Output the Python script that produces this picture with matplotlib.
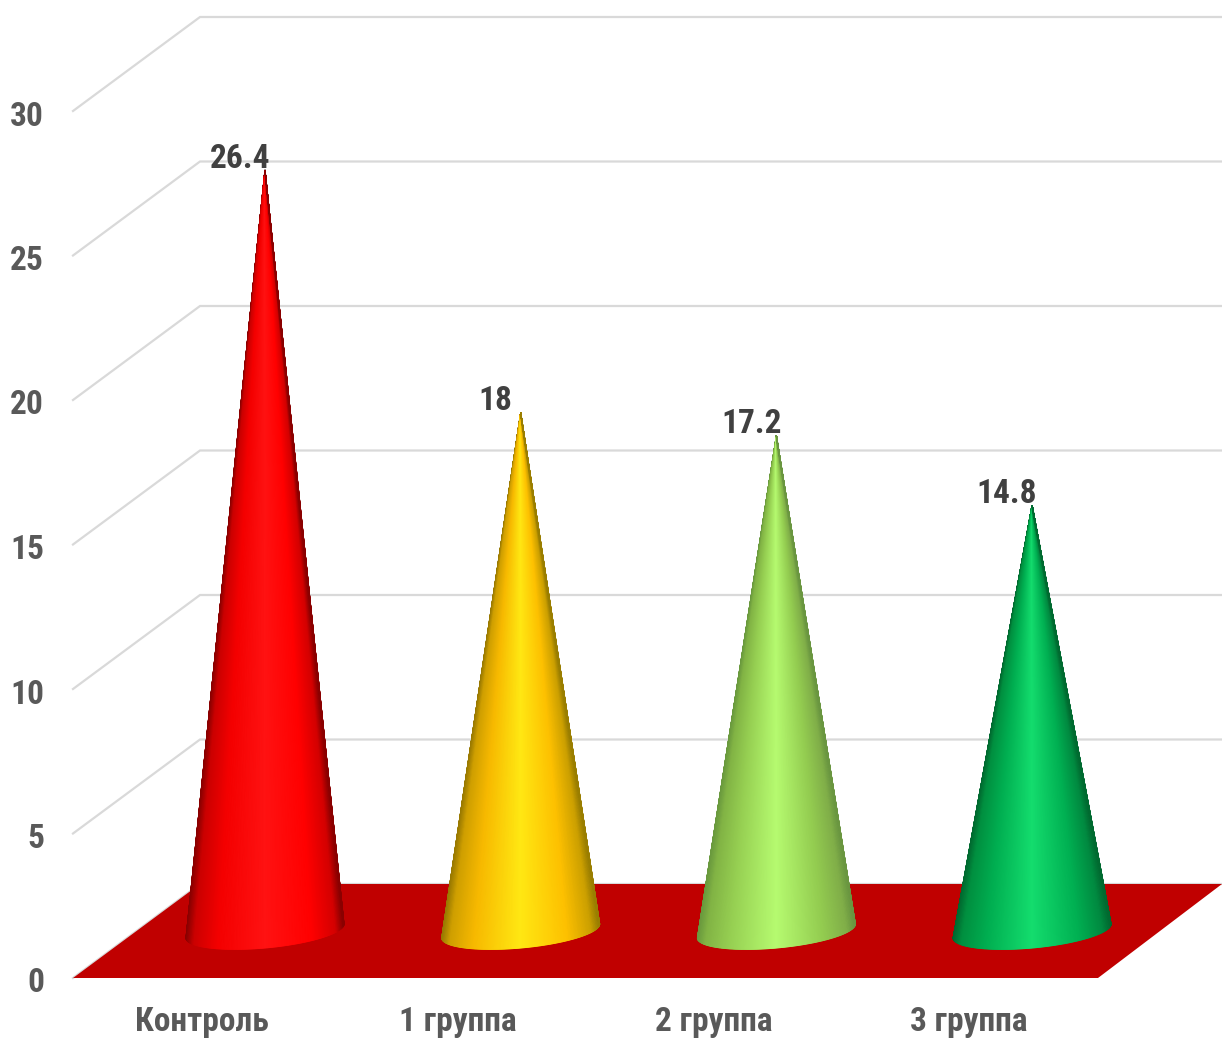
"""3D style cone chart: control and three groups."""

import numpy as np
import matplotlib
matplotlib.use("Agg")
import matplotlib.pyplot as plt
from matplotlib.colors import LinearSegmentedColormap
from matplotlib.patches import Polygon

# Data
CATEGORIES = ["Контроль", "1 группа", "2 группа", "3 группа"]
VALUES = [26.4, 18, 17.2, 14.8]
VALUE_LABELS = ["26.4", "18", "17.2", "14.8"]
Y_TICKS = [0, 5, 10, 15, 20, 25, 30]

# Colour stops across each cone, left edge to right edge
CONE_COLORS = [
    ["#8a0000", "#cc0000", "#f40000", "#ff1212", "#ff0000", "#d40000", "#8a0000"],
    ["#9a7a00", "#d0a000", "#f7b900", "#ffe813", "#fdc000", "#cca000", "#9a7e00"],
    ["#6a9a3e", "#82b445", "#96cf52", "#b6fb70", "#93cc50", "#80ae48", "#6a9640"],
    ["#006a30", "#009040", "#00ad50", "#14dd6e", "#00b052", "#008a40", "#006a30"],
]
COLOR_STOPS = [0, 0.05, 0.2, 0.5, 0.8, 0.95, 1]

# Scale of the picture
FIG_W, FIG_H = 1222, 1039
PX_PER_CAT = 255.7
PX_PER_UNIT = 28.9
FIRST_CONE_PX = 265
BASE_PX = 933
FRONT_ZERO_PX = 978
BACK_ZERO_PX = 884
LEFT_FRONT_PX = 73
LEFT_BACK_PX = 200
RIGHT_FRONT_PX = 1098

GRID_COLOR = "#d9d9d9"
FLOOR_COLOR = "#c00000"
TICK_COLOR = "#595959"
LABEL_COLOR = "#404040"
FONT = ["Roboto Condensed", "Liberation Sans", "DejaVu Sans"]


def cat_x(px):
    return (px - FIRST_CONE_PX) / PX_PER_CAT


def val_y(px):
    return (BASE_PX - px) / PX_PER_UNIT


def draw_cone(ax, pos, value, colors):
    # Base is a tilted ellipse, the left end sits lower than the right one
    center_y = val_y(931)
    half_w = 79 / PX_PER_CAT
    tilt = 7 / PX_PER_UNIT
    drop = 17 / PX_PER_UNIT
    theta = np.linspace(np.pi, 2 * np.pi, 241)
    base_x = pos + half_w * np.cos(theta)
    base_y = center_y + tilt * np.cos(theta) + drop * np.sin(theta)

    s = np.array([[0.0], [1.0]])
    X = pos + s * (base_x - pos)
    Y = value + s * (base_y - value)
    C = np.tile((base_x - base_x.min()) / (base_x.max() - base_x.min()), (2, 1))

    cmap = LinearSegmentedColormap.from_list("cone", list(zip(COLOR_STOPS, colors)))
    ax.pcolormesh(X, Y, C, cmap=cmap, shading="gouraud", vmin=0, vmax=1, zorder=4)


def main():
    fig = plt.figure(figsize=(FIG_W / 100, FIG_H / 100), dpi=100)
    ax = fig.add_axes([0, 0, 1, 1])
    ax.set_xlim(cat_x(0), cat_x(FIG_W))
    ax.set_ylim(val_y(FIG_H), val_y(0))
    ax.axis("off")

    # Wall and side gridlines
    front = (BASE_PX - FRONT_ZERO_PX) / PX_PER_UNIT
    back = (BASE_PX - BACK_ZERO_PX) / PX_PER_UNIT
    for tick in Y_TICKS:
        ax.plot([cat_x(LEFT_FRONT_PX), cat_x(LEFT_BACK_PX), cat_x(FIG_W)],
                [tick + front, tick + back, tick + back],
                color=GRID_COLOR, lw=1.6, solid_joinstyle="miter", zorder=1)
        ax.text(cat_x(44), tick + front - 2 / PX_PER_UNIT, str(tick), ha="right",
                va="center_baseline", fontsize=24, fontweight="bold",
                color=TICK_COLOR, family=FONT)

    # Floor
    floor = Polygon([(cat_x(LEFT_FRONT_PX), front), (cat_x(RIGHT_FRONT_PX), front),
                     (cat_x(FIG_W), back), (cat_x(LEFT_BACK_PX), back)],
                    closed=True, facecolor=FLOOR_COLOR, edgecolor="none", zorder=2)
    ax.add_patch(floor)

    for i, value in enumerate(VALUES):
        draw_cone(ax, i, value, CONE_COLORS[i])
        ax.text(i - 25 / PX_PER_CAT, value + 15 / PX_PER_UNIT, VALUE_LABELS[i],
                ha="center", va="center_baseline", fontsize=24, fontweight="bold",
                color=LABEL_COLOR, family=FONT, zorder=5)
        ax.text(i - 63 / PX_PER_CAT, val_y(1019), CATEGORIES[i],
                ha="center", va="center_baseline", fontsize=24, fontweight="bold",
                color=TICK_COLOR, family=FONT)

    fig.savefig("out.png", dpi=100, facecolor="white")


if __name__ == "__main__":
    main()
